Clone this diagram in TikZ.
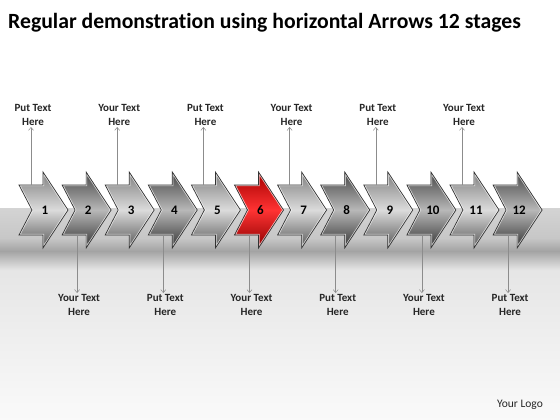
\documentclass[tikz,border=0pt]{standalone}
\usepackage{fontspec}
\setmainfont{Carlito}[Ligatures=NoCommon]
\usepackage{xcolor}
\usetikzlibrary{arrows.meta, positioning}

\newcommand{\chevron}[1]{(#1,185) -- ++(24,0) -- ++(0,-13) -- ++(25,38) -- ++(-25,38) -- ++(0,-13) -- ++(-24,0) -- ++(13,-25) -- cycle}

\tikzset{
  lite/.style={top color=black!50, bottom color=black!66, middle color=black!14},
  dark/.style={top color=black!72, bottom color=black!80, middle color=black!28},
  hot/.style={top color=red!65!black, bottom color=red!55!black, middle color=red!80},
  rim/.style={draw=black!80, line width=0.7pt},
  shine/.style={draw=white, opacity=0.7, line width=2.2pt},
  num/.style={font=\bfseries\fontsize{13}{15}\selectfont},
  lbl/.style={font=\bfseries\fontsize{11}{14}\selectfont, align=center, text=black!85, inner sep=1pt},
  pin/.style={draw=black!45, line width=0.5pt, ->}
}

\begin{document}
\begin{tikzpicture}[x=1pt, y=-1pt, node distance=8mm and 10mm, >={Straight Barb[length=3pt, width=5pt]}]
    \useasboundingbox (0,0) rectangle (560,420);

    % Background
    \fill[white] (0,0) rectangle (560,208);
    \shade[top color=black!17, bottom color=black!22] (0,208) rectangle (560,238);
    \shade[top color=black!22, bottom color=black!36] (0,238) rectangle (560,251);
    \shade[top color=black!36, bottom color=black!10] (0,251) rectangle (560,270);
    \shade[top color=black!10, bottom color=black!2] (0,270) rectangle (560,420);

    % Title
    \node[anchor=base west, inner sep=0pt, font=\bfseries\fontsize{21.7}{24}\selectfont] (title) at (8,29)
      {Regular demonstration using horizontal Arrows 12 stages};

    % Stages
    \foreach \i/\sty in {1/lite,2/dark,3/lite,4/dark,5/lite,6/hot,7/lite,8/dark,9/lite,10/dark,11/lite,12/dark} {
      \pgfmathsetmacro{\x}{19+43.1*(\i-1)}
      \shade[\sty] \chevron{\x};
      \begin{scope}
        \clip \chevron{\x};
        \draw[shine] \chevron{\x};
      \end{scope}
      \draw[rim] \chevron{\x};
      \node[num] (s\i) at (\x+26,210) {\i};
      \coordinate (top\i) at (\x+12,185);
      \coordinate (bot\i) at (\x+15,235);
    }

    % Labels above
    \foreach \i/\txt in {1/Put,3/Your,5/Put,7/Your,9/Put,11/Your} {
      \node[lbl, above=58pt of top\i, xshift=2pt] (up\i) {\txt{} Text\\Here};
      \draw[pin] (top\i) -- (top\i |- up\i.south);
    }

    % Labels below
    \foreach \i/\txt in {2/Your,4/Put,6/Your,8/Put,10/Your,12/Put} {
      \node[lbl, below=58pt of bot\i, xshift=2pt] (dn\i) {\txt{} Text\\Here};
      \draw[pin] (bot\i) -- (bot\i |- dn\i.north);
    }

    \node[font=\fontsize{11.5}{13}\selectfont, text=black!85] (logo) at (520,405) {Your Logo};
\end{tikzpicture}
\end{document}
